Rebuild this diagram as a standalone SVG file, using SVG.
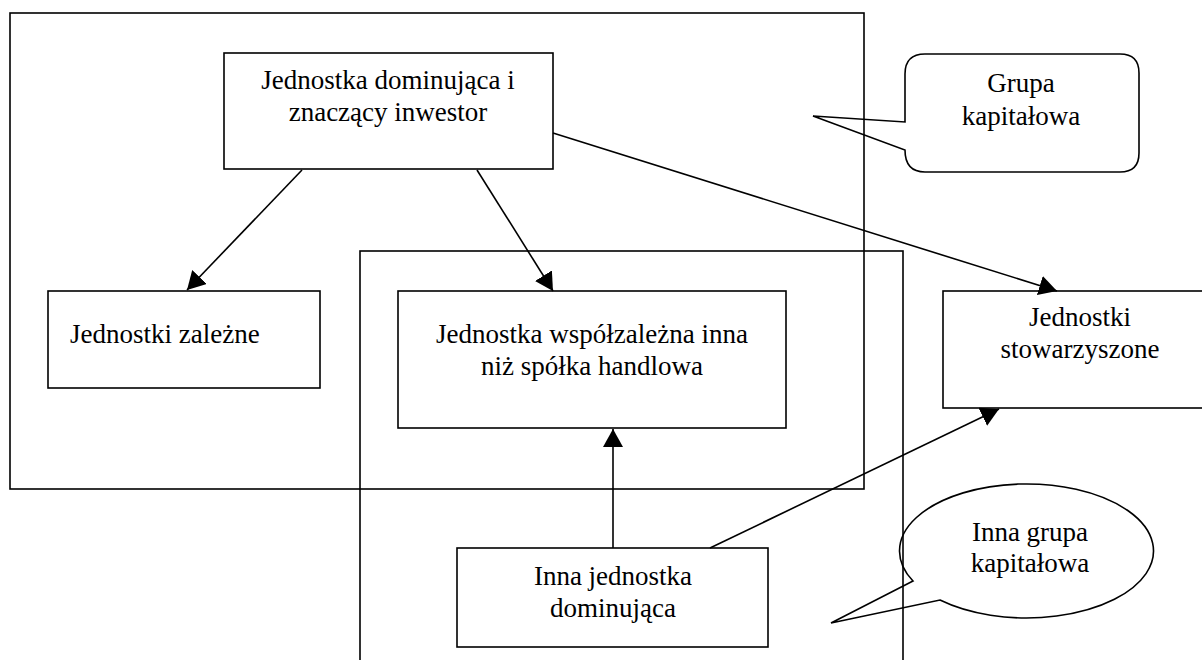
<svg xmlns="http://www.w3.org/2000/svg" width="1202" height="660" viewBox="0 0 1202 660">
<style>
.b{fill:none;stroke:#000;stroke-width:1.6}
.n{fill:#fff;stroke:#000;stroke-width:1.6}
.c{fill:none;stroke:#000;stroke-width:1.6}
.t{font-family:"Liberation Serif","Times New Roman",serif;font-size:27px;fill:#000}
.m{text-anchor:middle}
.l{fill:none;stroke:#000;stroke-width:1.6}
</style>
<defs>
<marker id="ah" markerUnits="userSpaceOnUse" markerWidth="18" markerHeight="20" viewBox="0 0 18 20" refX="18" refY="10" orient="auto">
<path d="M0,0 L18,10 L0,20 z" fill="#000"/>
</marker>
</defs>
<rect width="1202" height="660" fill="#fff"/>
<g id="grupa-kapitalowa-frame"><rect class="b" x="10" y="13" width="854" height="476"/></g>
<g id="inna-grupa-frame"><rect class="b" x="360" y="251" width="543" height="430"/></g>
<g id="dominujaca"><rect class="n" x="224" y="53" width="329" height="116"/>
<text class="t m" x="388" y="89">Jednostka dominująca i</text>
<text class="t m" x="388" y="121">znaczący inwestor</text></g>
<g id="zalezne"><rect class="n" x="48" y="291" width="272" height="97"/>
<text class="t" x="70" y="343">Jednostki zależne</text></g>
<g id="wspolzalezna"><rect class="n" x="398" y="291" width="388" height="137"/>
<text class="t m" x="592" y="343">Jednostka współzależna inna</text>
<text class="t m" x="592" y="375">niż spółka handlowa</text></g>
<g id="stowarzyszone"><rect class="n" x="943" y="291" width="274" height="117"/>
<text class="t m" x="1080" y="326">Jednostki</text>
<text class="t m" x="1080" y="358">stowarzyszone</text></g>
<g id="inna-dominujaca"><rect class="n" x="457" y="548" width="311" height="99"/>
<text class="t m" x="613" y="585">Inna jednostka</text>
<text class="t m" x="613" y="617">dominująca</text></g>
<g id="callout-grupa"><path class="c" d="M925,54 H1120 Q1139,54 1139,73 V153 Q1139,172 1120,172 H925 Q905,172 905,150 L813,116 L905,122 V74 Q905,54 925,54 Z"/>
<text class="t m" x="1021" y="92">Grupa</text>
<text class="t m" x="1021" y="125">kapitałowa</text></g>
<g id="callout-inna-grupa"><path class="c" d="M913,581 L831,623 L940,600 A127 67 0 1 0 913,581 Z"/>
<text class="t m" x="1030" y="541">Inna grupa</text>
<text class="t m" x="1030" y="572">kapitałowa</text></g>
<g id="connectors">
<line class="l" x1="302" y1="170" x2="187" y2="290" marker-end="url(#ah)"/>
<line class="l" x1="477" y1="170" x2="553" y2="291" marker-end="url(#ah)"/>
<line class="l" x1="553" y1="133" x2="1057" y2="291" marker-end="url(#ah)"/>
<line class="l" x1="613" y1="548" x2="613" y2="429" marker-end="url(#ah)"/>
<line class="l" x1="710" y1="548" x2="999" y2="409" marker-end="url(#ah)"/>
</g>
</svg>
